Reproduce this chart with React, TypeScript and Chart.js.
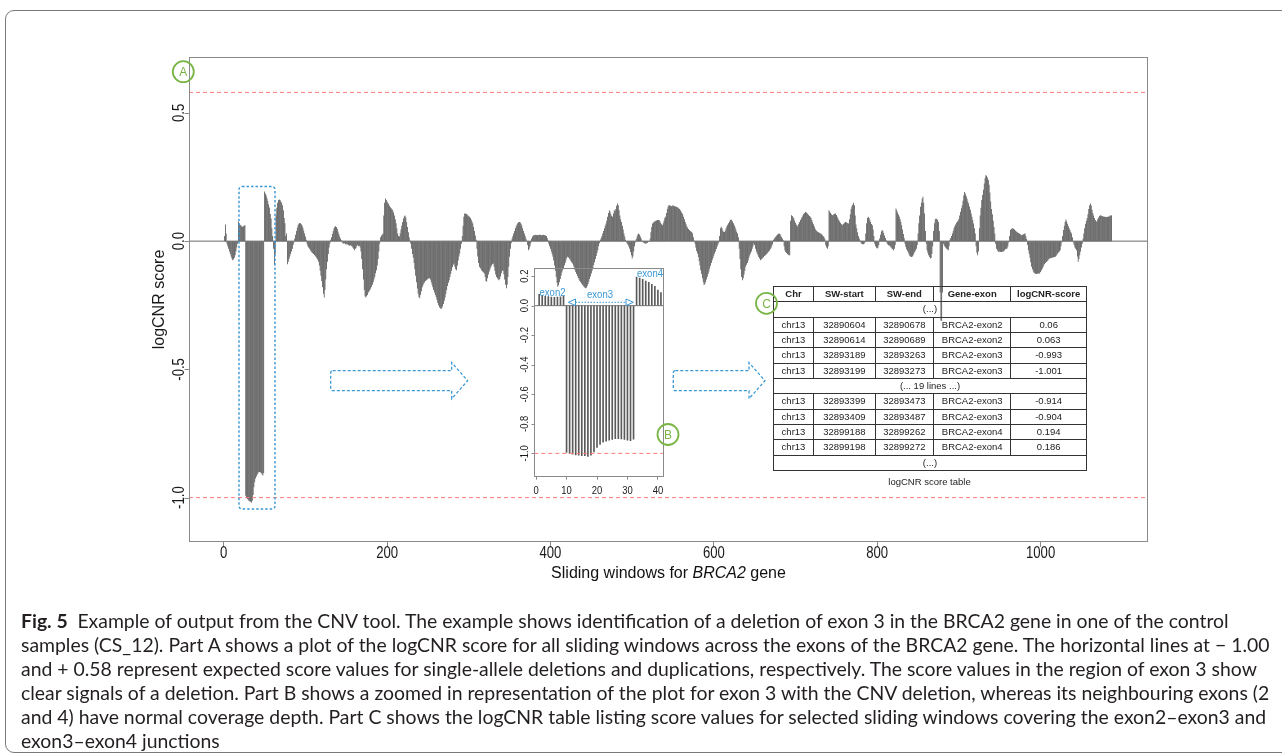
import React, { useEffect, useRef } from "react";
import { Chart, registerables } from "chart.js";

Chart.register(...registerables);

// ---------------- data (logCNR score per sliding window, BRCA2) ----------------
const preExon2Scores = [
  0.02, 0.065, 0.03, -0.01, -0.02, -0.03, -0.04, -0.05, -0.06, -0.068,
  -0.074, -0.072, -0.065, -0.055, -0.04, -0.025, -0.01,
];
const exon2Scores = [0.077, 0.07, 0.064, 0.062, 0.058, 0.056, 0.058, 0.06, 0.063];
const exon3Scores = [
  -0.993, -1.001, -1.005, -1.01, -1.012, -1.015, -1.016, -1.02, -1.012, -0.99,
  -0.96, -0.94, -0.925, -0.918, -0.91, -0.905, -0.9, -0.9, -0.902, -0.905,
  -0.91, -0.914, -0.904,
];
const exon4Scores = [0.194, 0.186, 0.178, 0.167, 0.158, 0.144, 0.131, 0.106, 0.088];
const scoresW59to100 = [
  0.05, 0.02, -0.03, -0.094, -0.05, 0.1, 0.13, 0.15, 0.16, 0.162,
  0.16, 0.155, 0.15, 0.14, 0.12, 0.09, 0.07, 0.02, 0.03, -0.09,
  -0.08, -0.07, -0.06, -0.05, -0.04, -0.03, -0.015, -0.005, 0.01, 0.025,
  0.04, 0.052, 0.062, 0.068, 0.071, 0.07, 0.066, 0.06, 0.052, 0.042,
  0.03, 0.018,
];
const scoresW101to200 = [
  0.005, -0.01, -0.02, -0.025, -0.03, -0.035, -0.04, -0.044, -0.047, -0.05,
  -0.054, -0.058, -0.062, -0.067, -0.072, -0.08, -0.095, -0.115, -0.135, -0.155,
  -0.18, -0.205, -0.22, -0.19, -0.15, -0.11, -0.08, -0.05, -0.025, -0.01,
  0.005, 0.015, 0.028, 0.04, 0.05, 0.056, 0.058, 0.055, 0.048, 0.038,
  0.028, 0.018, 0.01, 0.004, -0.005, -0.008, -0.01, -0.008, -0.012, -0.01,
  -0.014, -0.012, -0.016, -0.018, -0.015, -0.02, -0.018, -0.025, -0.03, -0.035,
  -0.03, -0.028, -0.02, -0.015, -0.02, -0.018, -0.025, -0.04, -0.07, -0.11,
  -0.15, -0.19, -0.215, -0.22, -0.215, -0.21, -0.2, -0.195, -0.19, -0.185,
  -0.178, -0.17, -0.16, -0.15, -0.14, -0.125, -0.113, -0.095, -0.07, -0.04,
  -0.01, 0.015, 0.022, 0.025, 0.03, 0.1, 0.15, 0.166, 0.16, 0.155,
];
const scoresW201to300 = [
  0.15, 0.145, 0.138, 0.132, 0.128, 0.124, 0.12, 0.112, 0.1, 0.085,
  0.07, 0.05, 0.03, 0.02, 0.018, 0.03, 0.045, 0.06, 0.075, 0.088,
  0.097, 0.1, 0.092, 0.075, 0.055, 0.035, 0.015, 0.003, -0.01, -0.03,
  -0.05, -0.065, -0.085, -0.11, -0.135, -0.16, -0.185, -0.205, -0.218, -0.223,
  -0.21, -0.195, -0.18, -0.172, -0.165, -0.16, -0.155, -0.152, -0.15, -0.148,
  -0.145, -0.145, -0.15, -0.16, -0.17, -0.18, -0.19, -0.2, -0.21, -0.218,
  -0.228, -0.24, -0.25, -0.258, -0.262, -0.265, -0.262, -0.255, -0.245, -0.232,
  -0.22, -0.205, -0.19, -0.175, -0.162, -0.152, -0.14, -0.128, -0.115, -0.102,
  -0.092, -0.087, -0.1, -0.11, -0.113, -0.095, -0.075, -0.06, -0.048, -0.03,
  -0.01, 0.02, 0.06, 0.095, 0.108, 0.108, 0.106, 0.104, 0.1, 0.097,
];
const scoresW301to400 = [
  0.095, 0.09, 0.083, 0.076, 0.069, 0.055, 0.04, 0.022, 0.005, -0.03,
  -0.06, -0.085, -0.1, -0.105, -0.11, -0.115, -0.118, -0.122, -0.126, -0.14,
  -0.155, -0.158, -0.145, -0.13, -0.118, -0.11, -0.102, -0.095, -0.09, -0.087,
  -0.1, -0.115, -0.13, -0.14, -0.145, -0.15, -0.152, -0.148, -0.138, -0.125,
  -0.115, -0.115, -0.13, -0.15, -0.17, -0.184, -0.17, -0.14, -0.1, -0.061,
  -0.03, -0.008, 0.01, 0.02, 0.03, 0.04, 0.05, 0.058, 0.065, 0.07,
  0.074, 0.075, 0.073, 0.068, 0.06, 0.05, 0.04, 0.03, 0.02, 0.01,
  0.002, -0.015, -0.035, -0.03, -0.02, -0.008, 0.01, 0.018, 0.022, 0.023,
  0.024, 0.025, 0.024, 0.023, 0.024, 0.025, 0.025, 0.024, 0.023, 0.024,
  0.025, 0.024, 0.023, 0.022, 0.02, 0.012, 0.004, -0.01, -0.02, -0.03,
];
const scoresW401to500 = [
  -0.04, -0.05, -0.061, -0.075, -0.095, -0.115, -0.14, -0.162, -0.178, -0.172,
  -0.16, -0.148, -0.135, -0.122, -0.113, -0.105, -0.095, -0.085, -0.075, -0.066,
  -0.061, -0.064, -0.068, -0.072, -0.077, -0.082, -0.087, -0.095, -0.103, -0.112,
  -0.12, -0.128, -0.136, -0.144, -0.15, -0.155, -0.16, -0.165, -0.17, -0.174,
  -0.178, -0.181, -0.184, -0.182, -0.175, -0.167, -0.158, -0.148, -0.138, -0.126,
  -0.115, -0.105, -0.093, -0.082, -0.07, -0.058, -0.046, -0.035, -0.02, -0.008,
  0.005, 0.012, 0.02, 0.03, 0.04, 0.05, 0.06, 0.069, 0.08, 0.095,
  0.11, 0.12, 0.115, 0.105, 0.098, 0.095, 0.108, 0.12, 0.118, 0.125,
  0.138, 0.147, 0.14, 0.12, 0.1, 0.085, 0.075, 0.06, 0.045, 0.03,
  0.018, 0.005, -0.005, -0.01, -0.015, -0.022, -0.03, -0.042, -0.055, -0.068,
];
const scoresW501to600 = [
  -0.06, -0.04, -0.02, -0.005, 0.008, 0.018, 0.026, 0.03, 0.026, 0.018,
  0.01, 0.002, -0.003, -0.006, -0.008, -0.009, -0.009, -0.008, -0.006, -0.003,
  0.001, 0.01, 0.035, 0.055, 0.069, 0.073, 0.076, 0.078, 0.08, 0.081,
  0.082, 0.082, 0.082, 0.078, 0.072, 0.066, 0.062, 0.07, 0.08, 0.09,
  0.095, 0.11, 0.125, 0.135, 0.14, 0.14, 0.138, 0.136, 0.138, 0.14,
  0.138, 0.136, 0.135, 0.134, 0.133, 0.13, 0.128, 0.125, 0.12, 0.115,
  0.11, 0.105, 0.095, 0.085, 0.075, 0.066, 0.058, 0.052, 0.047, 0.043,
  0.04, 0.038, 0.036, 0.03, 0.015, 0.002, -0.01, -0.025, -0.038, -0.048,
  -0.062, -0.078, -0.095, -0.113, -0.128, -0.145, -0.16, -0.171, -0.168, -0.16,
  -0.15, -0.139, -0.128, -0.118, -0.107, -0.096, -0.085, -0.074, -0.066, -0.057,
];
const scoresW601to700 = [
  -0.048, -0.04, -0.031, -0.022, -0.014, -0.006, 0.02, 0.05, 0.056, 0.05,
  0.042, 0.037, 0.036, 0.042, 0.05, 0.058, 0.064, 0.07, 0.076, 0.082,
  0.084, 0.082, 0.077, 0.07, 0.062, 0.054, 0.045, 0.037, 0.03, 0.015,
  -0.03, -0.07, -0.11, -0.14, -0.152, -0.145, -0.13, -0.115, -0.1, -0.092,
  -0.085, -0.075, -0.065, -0.056, -0.048, -0.04, -0.03, -0.02, -0.009, -0.015,
  -0.03, -0.04, -0.048, -0.055, -0.062, -0.068, -0.074, -0.072, -0.069, -0.066,
  -0.062, -0.058, -0.055, -0.052, -0.049, -0.045, -0.041, -0.037, -0.032, -0.028,
  -0.02, -0.012, 0.005, 0.01, 0.015, 0.018, 0.022, 0.026, 0.029, 0.03,
  0.028, 0.022, 0.015, 0.01, 0.004, -0.02, -0.035, -0.042, -0.046, -0.05,
  -0.053, -0.055, -0.055, 0.08, 0.101, 0.098, 0.093, 0.088, 0.08, 0.072,
];
const scoresW701to800 = [
  0.064, 0.056, 0.062, 0.068, 0.075, 0.082, 0.088, 0.094, 0.1, 0.106,
  0.11, 0.114, 0.113, 0.11, 0.106, 0.102, 0.098, 0.095, 0.09, 0.082,
  0.074, 0.066, 0.057, 0.048, 0.043, 0.04, 0.037, 0.035, 0.033, 0.031,
  0.03, 0.027, 0.023, 0.019, 0.015, 0.008, -0.016, -0.025, -0.03, -0.02,
  0.12, 0.115, 0.11, 0.105, 0.101, 0.103, 0.105, 0.107, 0.108, 0.102,
  0.095, 0.088, 0.082, 0.077, 0.072, 0.067, 0.062, 0.065, 0.068, 0.072,
  0.075, 0.074, 0.072, 0.07, 0.069, 0.085, 0.105, 0.125, 0.135, 0.142,
  0.15, 0.14, 0.1, 0.065, 0.05, 0.035, 0.02, 0.01, 0.003, -0.005,
  -0.01, -0.012, -0.012, -0.01, -0.005, 0.03, 0.07, 0.09, 0.095, 0.09,
  0.083, 0.075, 0.067, 0.062, 0.045, 0.02, -0.01, -0.02, -0.026, -0.029,
];
const scoresW801to900 = [
  -0.025, -0.015, 0.01, 0.025, 0.038, 0.043, 0.04, 0.032, 0.022, 0.012,
  0.004, -0.008, -0.013, -0.016, -0.018, -0.021, -0.025, -0.029, -0.032, -0.035,
  -0.03, -0.015, 0.127, 0.12, 0.112, 0.104, 0.096, 0.086, 0.076, 0.062,
  0.045, 0.028, 0.012, -0.01, -0.022, -0.032, -0.038, -0.045, -0.052, -0.058,
  -0.061, -0.062, -0.06, -0.055, -0.048, -0.042, -0.036, -0.03, -0.015, 0.03,
  0.07, 0.1, 0.134, 0.15, 0.165, 0.173, 0.15, 0.108, 0.04, -0.01,
  -0.035, -0.045, -0.055, -0.062, -0.068, -0.066, -0.05, -0.02, 0.04, 0.07,
  0.085, 0.088, 0.086, 0.082, 0.075, 0.04, -0.2, -0.31, -0.31, -0.2,
  -0.01, -0.018, -0.022, -0.026, -0.03, -0.033, -0.035, -0.02, 0.005, 0.012,
  0.02, 0.03, 0.04, 0.05, 0.058, 0.065, 0.072, 0.077, 0.08, 0.086,
];
const scoresW901to1000 = [
  0.1, 0.115, 0.128, 0.14, 0.158, 0.178, 0.192, 0.185, 0.175, 0.165,
  0.155, 0.147, 0.135, 0.122, 0.108, 0.095, 0.082, 0.069, 0.05, 0.03,
  -0.02, -0.045, -0.055, -0.04, 0.05, 0.1, 0.13, 0.16, 0.18, 0.2,
  0.225, 0.245, 0.257, 0.255, 0.248, 0.238, 0.22, 0.19, 0.155, 0.125,
  0.105, 0.08, 0.055, 0.03, -0.01, -0.03, -0.035, -0.04, -0.042, -0.04,
  -0.042, -0.042, -0.04, -0.042, -0.038, -0.035, -0.032, -0.03, -0.029, -0.02,
  -0.005, 0.02, 0.043, 0.047, 0.049, 0.05, 0.048, 0.045, 0.042, 0.039,
  0.036, 0.034, 0.032, 0.03, 0.027, 0.025, 0.023, 0.025, 0.027, 0.029,
  0.03, 0.02, 0.008, -0.015, -0.035, -0.05, -0.065, -0.082, -0.1, -0.11,
  -0.118, -0.123, -0.126, -0.127, -0.128, -0.127, -0.126, -0.126, -0.126, -0.12,
];
const scoresW1001to1087 = [
  -0.114, -0.108, -0.102, -0.095, -0.089, -0.085, -0.081, -0.078, -0.075, -0.071,
  -0.068, -0.067, -0.066, -0.065, -0.064, -0.063, -0.062, -0.061, -0.057, -0.053,
  -0.048, -0.044, -0.04, -0.035, -0.02, -0.005, 0.02, 0.043, 0.06, 0.075,
  0.084, 0.078, 0.068, 0.058, 0.05, 0.043, 0.036, 0.03, 0.015, -0.005,
  -0.015, -0.025, -0.03, -0.035, -0.06, -0.08, -0.07, -0.055, -0.04, -0.025,
  -0.01, 0.01, 0.03, 0.05, 0.068, 0.08, 0.09, 0.105, 0.125, 0.14,
  0.147, 0.138, 0.122, 0.11, 0.1, 0.09, 0.082, 0.076, 0.078, 0.085,
  0.092, 0.098, 0.101, 0.1, 0.098, 0.097, 0.096, 0.095, 0.095, 0.094,
  0.094, 0.095, 0.095, 0.097, 0.099, 0.101, 0.1,
];

const mainXTicks = [0, 200, 400, 600, 800, 1000];
const mainXTickLabels = ["0", "200", "400", "600", "800", "1000"];
const mainYTicks = [-1.0, -0.5, 0.0, 0.5];
const mainYTickLabels = ["-1.0", "-0.5", "0.0", "0.5"];
const insetXTicks = [0, 10, 20, 30, 40];
const insetXTickLabels = ["0", "10", "20", "30", "40"];
const insetYTicks = [0.2, 0.0, -0.2, -0.4, -0.6, -0.8, -1.0];
const insetYTickLabels = ["0.2", "0.0", "-0.2", "-0.4", "-0.6", "-0.8", "-1.0"];
const deletionLevel = -1.0;
const duplicationLevel = 0.58;

const tableHeader = ["Chr", "SW-start", "SW-end", "Gene-exon", "logCNR-score"];
const tableRowsTop = [
  ["chr13", "32890604", "32890678", "BRCA2-exon2", "0.06"],
  ["chr13", "32890614", "32890689", "BRCA2-exon2", "0.063"],
  ["chr13", "32893189", "32893263", "BRCA2-exon3", "-0.993"],
  ["chr13", "32893199", "32893273", "BRCA2-exon3", "-1.001"],
];
const tableRowsBottom = [
  ["chr13", "32893399", "32893473", "BRCA2-exon3", "-0.914"],
  ["chr13", "32893409", "32893487", "BRCA2-exon3", "-0.904"],
  ["chr13", "32899188", "32899262", "BRCA2-exon4", "0.194"],
  ["chr13", "32899198", "32899272", "BRCA2-exon4", "0.186"],
];

const captionLines = [
  "Example of output from the CNV tool. The example shows identification of a deletion of exon 3 in the BRCA2 gene in one of the control",
  "samples (CS_12). Part A shows a plot of the logCNR score for all sliding windows across the exons of the BRCA2 gene. The horizontal lines at \u2212 1.00",
  "and + 0.58 represent expected score values for single-allele deletions and duplications, respectively. The score values in the region of exon 3 show",
  "clear signals of a deletion. Part B shows a zoomed in representation of the plot for exon 3 with the CNV deletion, whereas its neighbouring exons (2",
  "and 4) have normal coverage depth. Part C shows the logCNR table listing score values for selected sliding windows covering the exon2\u2013exon3 and",
  "exon3\u2013exon4 junctions",
];

const allScores = [
  ...preExon2Scores, ...exon2Scores, ...exon3Scores, ...exon4Scores,
  ...scoresW59to100, ...scoresW101to200, ...scoresW201to300, ...scoresW301to400,
  ...scoresW401to500, ...scoresW501to600, ...scoresW601to700, ...scoresW701to800,
  ...scoresW801to900, ...scoresW901to1000, ...scoresW1001to1087,
];
const insetScores = [...exon2Scores, ...exon3Scores, ...exon4Scores];

// ---------------- styling ----------------
const SANS = "'Liberation Sans', Arial, Helvetica, sans-serif";
const BLUE = "#3a98d4";
const GREEN = "#79b545";
const RED = "#ff7a7a";
const AXIS = "#8a8a8a";
const NARROW_X = 0.82; // horizontal squeeze to mimic a narrow Helvetica

function framePlugin(cfg: any) {
  return {
    id: "frameDecor",
    afterDraw(chart: any) {
      const { ctx, chartArea: a } = chart;
      const ys = chart.scales.y;
      const xs = chart.scales.x;
      ctx.save();
      ctx.strokeStyle = AXIS;
      ctx.lineWidth = 1;
      const l = Math.round(a.left) + 0.5;
      const t = Math.round(a.top) + 0.5;
      const r = Math.round(a.right) - 0.5;
      const b = Math.round(a.bottom) - 0.5;
      ctx.strokeRect(l, t, r - l, b - t);
      ctx.fillStyle = "#1a1a1a";
      ctx.font = cfg.font;
      ctx.textAlign = "center";
      ctx.textBaseline = "alphabetic";
      cfg.yTicks.forEach((v: number, i: number) => {
        const py = ys.getPixelForValue(v);
        const pyr = Math.round(py) + 0.5;
        ctx.beginPath();
        ctx.moveTo(l - cfg.tickLen, pyr);
        ctx.lineTo(l, pyr);
        ctx.stroke();
        ctx.save();
        ctx.translate(cfg.yLabelRight, py);
        ctx.rotate(-Math.PI / 2);
        ctx.scale(NARROW_X, 1);
        ctx.fillText(cfg.yLabels[i], 0, 0);
        ctx.restore();
      });
      cfg.xTicks.forEach((v: number, i: number) => {
        const px = xs.getPixelForValue(v);
        ctx.save();
        ctx.translate(px, cfg.xLabelBaseline);
        ctx.scale(NARROW_X, 1);
        ctx.fillText(cfg.xLabels[i], 0, 0);
        ctx.restore();
      });
      if (cfg.title) {
        ctx.font = cfg.title.font;
        ctx.save();
        ctx.translate(cfg.title.baselineX, (a.top + a.bottom) / 2);
        ctx.rotate(-Math.PI / 2);
        ctx.fillText(cfg.title.text, 0, 0);
        ctx.restore();
      }
      ctx.restore();
    },
  };
}

function xScaleOptions(min: number, max: number, ticks: number[], height: number, tickLength: number) {
  return {
    type: "linear",
    min,
    max,
    offset: false,
    afterBuildTicks: (s: any) => { s.ticks = ticks.map((v) => ({ value: v })); },
    afterFit: (s: any) => { s.height = height; },
    grid: { display: true, offset: false, drawOnChartArea: false, drawTicks: true, tickLength, color: AXIS, tickColor: AXIS },
    border: { display: false },
    ticks: { display: false, autoSkip: false, maxRotation: 0 },
  };
}

function MainPlot() {
  const ref = useRef<HTMLCanvasElement>(null);
  useEffect(() => {
    const xMin = -42.5;
    const xMax = 1131.5;
    const chart = new Chart(ref.current as HTMLCanvasElement, {
      type: "bar",
      data: {
        datasets: [
          {
            type: "line",
            data: [{ x: xMin, y: duplicationLevel }, { x: xMax, y: duplicationLevel }],
            borderColor: RED, borderWidth: 1, borderDash: [4, 3], pointRadius: 0, order: 0,
          } as any,
          {
            type: "line",
            data: [{ x: xMin, y: deletionLevel }, { x: xMax, y: deletionLevel }],
            borderColor: RED, borderWidth: 1, borderDash: [4, 3], pointRadius: 0, order: 0,
          } as any,
          {
            type: "line",
            data: [{ x: xMin, y: 0 }, { x: xMax, y: 0 }],
            borderColor: "#6a6a6a", borderWidth: 1, pointRadius: 0, order: 0,
          } as any,
          {
            type: "bar",
            data: allScores.map((v, i) => ({ x: i + 1, y: v })),
            backgroundColor: "#3c3c3c",
            borderWidth: 0,
            barPercentage: 0.85,
            categoryPercentage: 1,
            inflateAmount: 0,
            order: 1,
          } as any,
        ],
      },
      options: {
        animation: false,
        responsive: false,
        devicePixelRatio: 1,
        events: [],
        layout: { padding: { left: 189, right: 134, top: 57, bottom: 0 } },
        plugins: { legend: { display: false }, tooltip: { enabled: false } },
        scales: {
          x: xScaleOptions(xMin, xMax, mainXTicks, 58, 5),
          y: { type: "linear", display: false, min: -1.173, max: 0.718 },
        },
      } as any,
      plugins: [
        framePlugin({
          yTicks: mainYTicks, yLabels: mainYTickLabels, tickLen: 5, yLabelRight: 183.5,
          xTicks: mainXTicks, xLabels: mainXTickLabels, xLabelBaseline: 557.5,
          font: `16px ${SANS}`,
          title: { text: "logCNR score", baselineX: 164, font: `16px ${SANS}` },
        }),
      ],
    });
    return () => chart.destroy();
  }, []);
  return <canvas ref={ref} width={1282} height={600} style={{ position: "absolute", left: 0, top: 0 }} />;
}

function InsetPlot() {
  const ref = useRef<HTMLCanvasElement>(null);
  useEffect(() => {
    const xMin = -0.6;
    const xMax = 42.1;
    const chart = new Chart(ref.current as HTMLCanvasElement, {
      type: "bar",
      data: {
        datasets: [
          {
            type: "line",
            data: [{ x: xMin, y: deletionLevel }, { x: xMax, y: deletionLevel }],
            borderColor: RED, borderWidth: 1, borderDash: [4, 3], pointRadius: 0, order: 0,
          } as any,
          {
            type: "line",
            data: [{ x: xMin, y: 0 }, { x: xMax, y: 0 }],
            borderColor: "#777", borderWidth: 1, pointRadius: 0, order: 0,
          } as any,
          {
            type: "bar",
            data: insetScores.map((v, i) => ({ x: i + 1, y: v })),
            backgroundColor: "#5a5a5a",
            borderWidth: 0,
            barThickness: 1,
            order: 1,
          } as any,
        ],
      },
      options: {
        animation: false,
        responsive: false,
        devicePixelRatio: 1,
        events: [],
        layout: { padding: { left: 34.3, right: 15.7, top: 10.3, bottom: 0 } },
        plugins: { legend: { display: false }, tooltip: { enabled: false } },
        scales: {
          x: xScaleOptions(xMin, xMax, insetXTicks, 21.3, 3),
          y: { type: "linear", display: false, min: -1.158, max: 0.253 },
        },
      } as any,
      plugins: [
        framePlugin({
          yTicks: insetYTicks, yLabels: insetYTickLabels, tickLen: 3, yLabelRight: 27.5,
          xTicks: insetXTicks, xLabels: insetXTickLabels, xLabelBaseline: 235.5,
          font: `11.5px ${SANS}`,
        }),
      ],
    });
    return () => chart.destroy();
  }, []);
  return <canvas ref={ref} width={180} height={240} style={{ position: "absolute", left: 500, top: 258 }} />;
}

function ScoreTable() {
  const widths = [40, 61.7, 58.3, 77.4, 75.6];
  const td: any = {
    border: "1px solid #333", padding: 0, textAlign: "center", height: "14.33px",
    lineHeight: "14px", whiteSpace: "nowrap", overflow: "hidden",
  };
  const row = (cells: string[], k: string, bold = false) => (
    <tr key={k} style={{ height: "15.33px" }}>
      {cells.map((c, i) => (
        <td key={i} style={{ ...td, fontWeight: bold ? "bold" : "normal" }}>{c}</td>
      ))}
    </tr>
  );
  const full = (text: string, k: string) => (
    <tr key={k} style={{ height: "15.33px" }}>
      <td colSpan={5} style={td}>{text}</td>
    </tr>
  );
  return (
    <div style={{ position: "absolute", left: 773, top: 286, width: 313 }}>
      <table style={{ borderCollapse: "collapse", width: 313, tableLayout: "fixed", font: `9.5px ${SANS}`, color: "#222", background: "transparent" }}>
        <colgroup>
          {widths.map((w, i) => <col key={i} style={{ width: w }} />)}
        </colgroup>
        <tbody>
          {row(tableHeader, "h", true)}
          {full("(...)", "e1")}
          {tableRowsTop.map((r, i) => row(r, "t" + i))}
          {full("(... 19 lines ...)", "e2")}
          {tableRowsBottom.map((r, i) => row(r, "b" + i))}
          {full("(...)", "e3")}
        </tbody>
      </table>
      <div style={{ textAlign: "center", font: `9.5px ${SANS}`, color: "#222", marginTop: 5 }}>logCNR score table</div>
    </div>
  );
}

function Overlay() {
  const arrow = (x0: number, xh: number, xt: number) =>
    `M${x0 + 2},370.7 L${xh},370.7 L${xh},362.7 L${xt},380.7 L${xh},398.7 L${xh},390.7 L${x0 + 2},390.7 Q${x0},390.7 ${x0},388.7 L${x0},372.7 Q${x0},370.7 ${x0 + 2},370.7 Z`;
  const circle = (cx: number, cy: number, letter: string) => (
    <g>
      <circle cx={cx} cy={cy} r={10.5} fill="none" stroke={GREEN} strokeWidth={1.8} />
      <text x={cx} y={cy + 4.3} textAnchor="middle" fill={GREEN} style={{ font: `12px ${SANS}` }}>{letter}</text>
    </g>
  );
  const exonLabel = (x: number, y: number, s: string) => (
    <text x={x} y={y} fill={BLUE} textLength={26} lengthAdjust="spacingAndGlyphs" style={{ font: `11.5px ${SANS}` }}>{s}</text>
  );
  return (
    <svg width={1282} height={755} style={{ position: "absolute", left: 0, top: 0, pointerEvents: "none" }}>
      <rect x={239} y={186.5} width={36} height={322.5} rx={3} fill="none" stroke={BLUE} strokeWidth={1.4} strokeDasharray="2.5 2" />
      <path d={arrow(330.7, 451.7, 467.7)} fill="none" stroke={BLUE} strokeWidth={1.3} strokeDasharray="3 2" />
      <path d={arrow(673.3, 749, 765)} fill="none" stroke={BLUE} strokeWidth={1.3} strokeDasharray="3 2" />
      {/* inset exon annotations */}
      <line x1={575.5} y1={302.3} x2={626} y2={302.3} stroke={BLUE} strokeWidth={1} strokeDasharray="1.5 1.5" />
      <path d="M568.3,302.3 L575.5,299 L575.5,305.6 Z" fill="none" stroke={BLUE} strokeWidth={1} />
      <path d="M633.3,302.3 L626,299 L626,305.6 Z" fill="none" stroke={BLUE} strokeWidth={1} />
      {exonLabel(539.5, 296, "exon2")}
      {exonLabel(587, 298.3, "exon3")}
      {exonLabel(637, 277.3, "exon4")}
      {circle(183.3, 71.7, "A")}
      {circle(668, 434.5, "B")}
      {circle(766.5, 303.3, "C")}
    </svg>
  );
}

export default function App() {
  return (
    <div style={{ position: "fixed", left: 0, top: 0, width: 1282, height: 755, background: "#fff", overflow: "hidden" }}>
      <div style={{ position: "absolute", left: 5, top: 10, width: 1300, height: 743, border: "1px solid #7a7a7a", borderRadius: 9, boxSizing: "border-box" }} />
      <MainPlot />
      <InsetPlot />
      <div style={{ position: "absolute", left: 468.5, width: 400, top: 564, textAlign: "center", font: `16px ${SANS}`, lineHeight: "18px", color: "#111" }}>
        Sliding windows for <i>BRCA2</i> gene
      </div>
      <ScoreTable />
      <Overlay />
      <div style={{ position: "absolute", left: 21, top: 609, fontFamily: "Lato, 'Open Sans', sans-serif", fontSize: 19.4, lineHeight: "24px", color: "#231f20" }}>
        {captionLines.map((t, i) => (
          <div key={i} style={{ whiteSpace: "nowrap" }}>
            {i === 0 ? <><b>Fig. 5</b>{"\u2002"}</> : null}
            {t}
          </div>
        ))}
      </div>
    </div>
  );
}
